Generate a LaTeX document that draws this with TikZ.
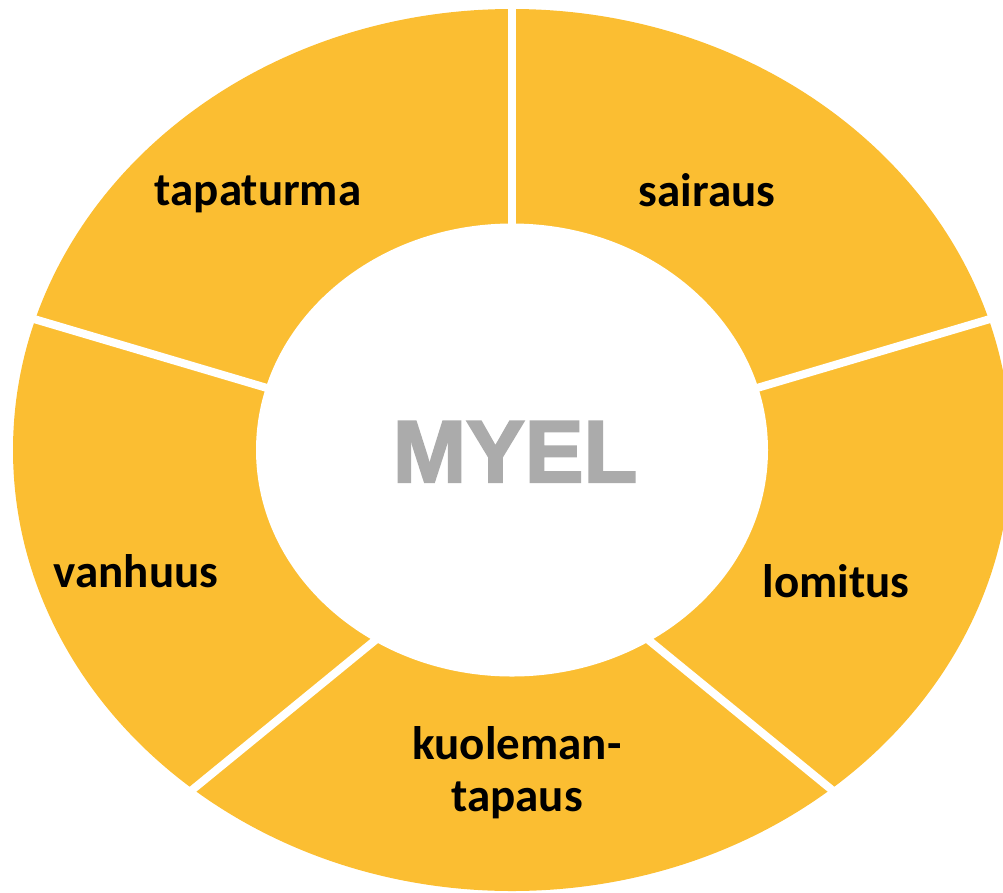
\documentclass[tikz,border=0pt]{standalone}
\usepackage{fontspec}
\setmainfont{Carlito}
\newfontfamily\myelfont[BoldFeatures={FakeBold=2.5}]{Liberation Sans}
\definecolor{ring}{HTML}{FBBE32}
\definecolor{myelgray}{HTML}{ABABAB}
\begin{document}
\begin{tikzpicture}[x=1pt,y=-1pt,
  lbl/.style={font=\fontsize{47}{52}\selectfont\bfseries, text=black, anchor=base, inner sep=0pt, align=center},
  gap/.style={draw=white, line width=8pt, shorten <=-6pt, shorten >=-6pt}]
\useasboundingbox (0,0) rectangle (1003,892);
\begin{scope}
\clip (0,0) rectangle (1003,892);
\fill[ring] (512,450) ellipse [x radius=499, y radius=441];
\fill[white] (512,450) ellipse [x radius=256, y radius=226.5];
% divider end points
\coordinate (t1) at (512,224);  \coordinate (t2) at (512,9);
\coordinate (ur1) at (757,388); \coordinate (ur2) at (990,319);
\coordinate (ul1) at (267,388); \coordinate (ul2) at (34,319);
\coordinate (ll1) at (373,642); \coordinate (ll2) at (192,790);
\coordinate (lr1) at (651,642); \coordinate (lr2) at (832,790);
\draw[gap] (t1) -- (t2);
\draw[gap] (ur1) -- (ur2);
\draw[gap] (ul1) -- (ul2);
\draw[gap] (ll1) -- (ll2);
\draw[gap] (lr1) -- (lr2);
\end{scope}
\node[lbl] (tapaturma) at (258,205) {tapaturma};
\node[lbl] (sairaus) at (707,206) {sairaus};
\node[lbl] (vanhuus) at (136,587) {vanhuus};
\node[lbl] (lomitus) at (836,597) {lomitus};
\node[lbl, anchor=base] (kuol) at (517,759) {kuoleman-};
\node[lbl, anchor=base] (tapaus) at (517,811) {tapaus};
\node[font=\myelfont\fontsize{88}{92}\selectfont\bfseries, text=myelgray, anchor=base, inner sep=0pt] (myel) at (515,482) {MYEL};
\end{tikzpicture}
\end{document}
